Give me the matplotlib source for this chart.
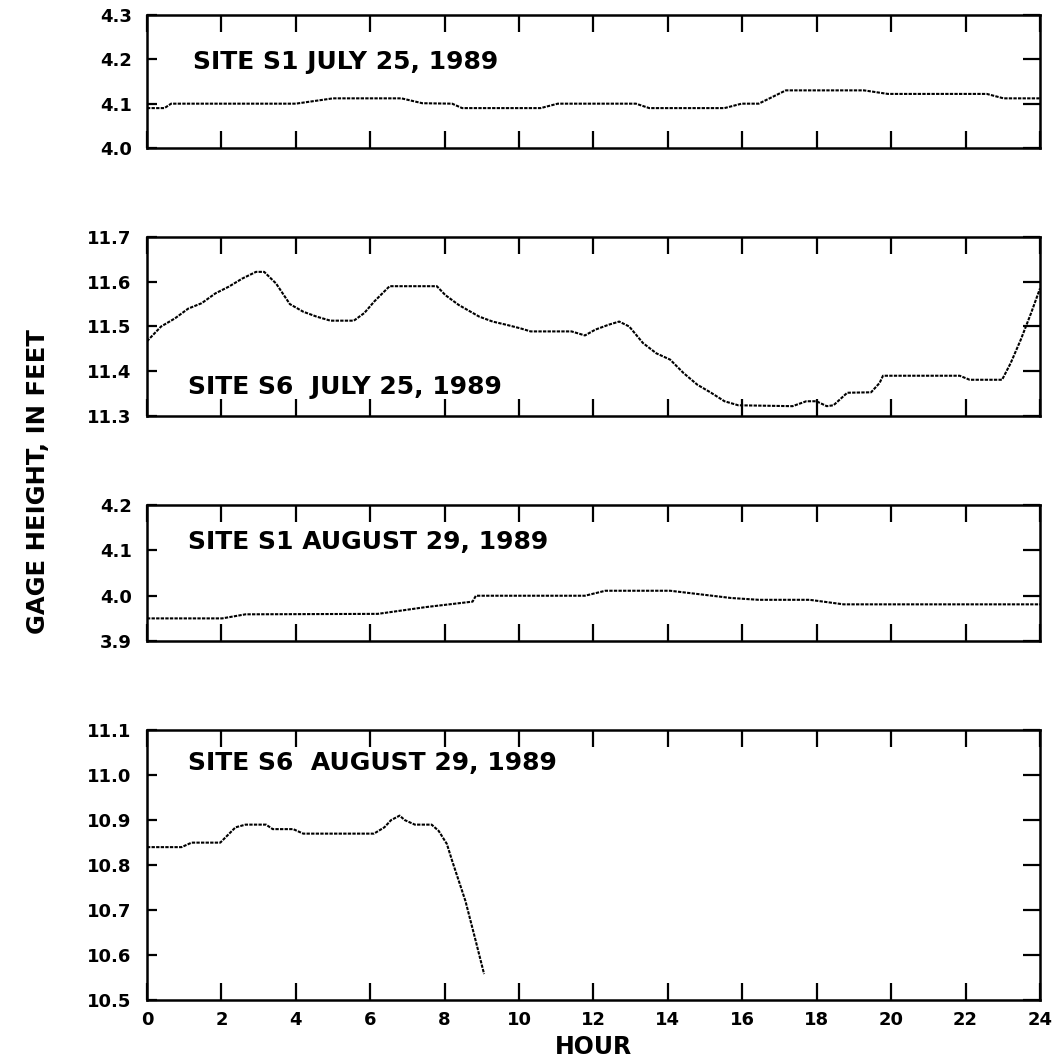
import matplotlib
matplotlib.use("Agg")
import matplotlib.pyplot as plt

# Gage height readings (hour, feet)
s1_jul_hours = [0, 0.47, 0.65, 4.0, 5.0, 6.84, 7.4, 8.2, 8.47, 10.58, 11.04, 13.14,
                13.5, 15.52, 15.98, 16.44, 17.17, 19.27, 19.91, 22.57, 23.02, 24]
s1_jul_feet = [4.09, 4.09, 4.10, 4.10, 4.112, 4.112, 4.101, 4.10, 4.09, 4.09, 4.10, 4.10,
               4.09, 4.09, 4.10, 4.10, 4.13, 4.13, 4.122, 4.122, 4.112, 4.112]

s6_jul_hours = [0, 0.38, 0.75, 1.11, 1.47, 1.84, 2.2, 2.56, 2.93, 3.15, 3.47, 3.84,
                4.2, 4.56, 4.93, 5.56, 5.84, 6.11, 6.52, 7.79, 8.02, 8.38, 8.93, 9.29,
                9.65, 10.03, 10.31, 11.41, 11.77, 12.05, 12.41, 12.69, 12.96, 13.33,
                13.69, 14.06, 14.42, 14.79, 15.16, 15.52, 15.89, 17.35, 17.72, 17.99,
                18.27, 18.45, 18.82, 19.46, 19.69, 19.78, 21.84, 22.11, 22.98, 23.21,
                23.48, 23.76, 24.0]
s6_jul_feet = [11.467, 11.50, 11.518, 11.54, 11.552, 11.574, 11.589, 11.607, 11.622,
               11.622, 11.596, 11.55, 11.533, 11.522, 11.513, 11.513, 11.53, 11.556,
               11.59, 11.59, 11.57, 11.548, 11.522, 11.511, 11.504, 11.496, 11.489,
               11.489, 11.48, 11.493, 11.504, 11.511, 11.50, 11.463, 11.44, 11.426,
               11.396, 11.37, 11.352, 11.333, 11.324, 11.322, 11.333, 11.333, 11.322,
               11.324, 11.352, 11.353, 11.374, 11.39, 11.39, 11.381, 11.381, 11.418,
               11.47, 11.53, 11.585]

s1_aug_hours = [0, 2.02, 2.65, 6.2, 6.38, 7.5, 8.75, 8.84, 11.77, 12.32, 14.06, 15.7,
                16.44, 17.81, 18.72, 24]
s1_aug_feet = [3.95, 3.95, 3.959, 3.96, 3.962, 3.975, 3.987, 4.0, 4.0, 4.011, 4.011,
               3.995, 3.991, 3.991, 3.981, 3.981]

s6_aug_hours = [0, 0.93, 1.2, 1.97, 2.38, 2.65, 3.2, 3.38, 3.93, 4.2, 6.1, 6.38, 6.56,
                6.79, 6.93, 7.2, 7.65, 7.84, 8.06, 8.2, 8.56, 8.84, 9.06]
s6_aug_feet = [10.84, 10.84, 10.85, 10.85, 10.884, 10.89, 10.89, 10.88, 10.88, 10.87,
               10.87, 10.884, 10.90, 10.91, 10.90, 10.89, 10.89, 10.876, 10.847, 10.81,
               10.72, 10.63, 10.558]

labels = ["SITE S1 JULY 25, 1989", "SITE S6  JULY 25, 1989",
          "SITE S1 AUGUST 29, 1989", "SITE S6  AUGUST 29, 1989"]
y_ranges = [(4.0, 4.3), (11.3, 11.7), (3.9, 4.2), (10.5, 11.1)]
x_ticks = list(range(0, 25, 2))

fig = plt.figure(figsize=(10.55, 10.64), dpi=100)

# axes boxes in figure fractions
boxes = [[0.1393, 0.8609, 0.8465, 0.1250],
         [0.1393, 0.6090, 0.8465, 0.1683],
         [0.1393, 0.3975, 0.8465, 0.1278],
         [0.1393, 0.0600, 0.8465, 0.2538]]
label_pos = [(0.051, 0.650), (0.046, 0.162), (0.046, 0.728), (0.046, 0.88)]

series = [(s1_jul_hours, s1_jul_feet), (s6_jul_hours, s6_jul_feet),
          (s1_aug_hours, s1_aug_feet), (s6_aug_hours, s6_aug_feet)]

for i, (hrs, ft) in enumerate(series):
    ax = fig.add_axes(boxes[i])
    ax.plot(hrs, ft, color="black", lw=1.5, linestyle=(0, (1.6, 0.6)))
    lo, hi = y_ranges[i]
    ax.set_xlim(0, 24)
    ax.set_ylim(lo, hi)
    ax.set_xticks(x_ticks)
    yt = [round(lo + 0.1 * k, 1) for k in range(int(round((hi - lo) / 0.1)) + 1)]
    ax.set_yticks(yt)
    ax.set_yticklabels([f"{v:.1f}" for v in yt], fontweight="bold", fontsize=13)
    ax.tick_params(axis="x", direction="in", length=12, width=1.6, top=True, pad=8)
    ax.tick_params(axis="y", direction="in", length=7, width=1.6, right=True, pad=11)
    for t in ax.yaxis.get_major_ticks():
        t.tick2line.set_markersize(12)
    if i < 3:
        ax.set_xticklabels([])
    else:
        ax.set_xticklabels([str(v) for v in x_ticks], fontweight="bold", fontsize=13)
        ax.set_xlabel("HOUR", fontweight="bold", fontsize=17, labelpad=4)
    for sp in ax.spines.values():
        sp.set_linewidth(1.8)
    ax.text(label_pos[i][0], label_pos[i][1], labels[i], transform=ax.transAxes,
            fontsize=18, fontweight="bold", va="center", ha="left")

fig.text(0.036, 0.547, "GAGE HEIGHT, IN FEET", rotation=90, fontweight="bold",
         fontsize=17.5, va="center", ha="center")

fig.savefig("out.png", dpi=100)
